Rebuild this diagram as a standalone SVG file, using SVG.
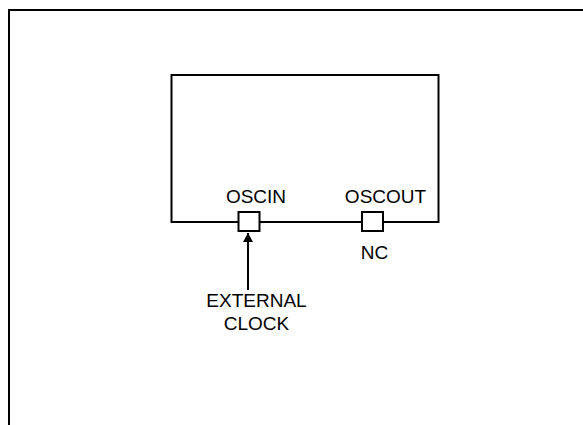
<svg xmlns="http://www.w3.org/2000/svg" width="583" height="425" viewBox="0 0 583 425">
<style>
.ln{fill:none;stroke:#000;stroke-width:2}
.pin{fill:#fff;stroke:#000;stroke-width:2}
.t{font-family:"Liberation Sans",Arial,sans-serif;font-size:19px;fill:#000;text-anchor:middle}
</style>
<defs>
<marker id="ah" markerWidth="10" markerHeight="10" refX="9" refY="5" orient="auto" markerUnits="userSpaceOnUse">
<path d="M0,0 L9,5 L0,10 Z" fill="#000"/>
</marker>
</defs>
<rect width="583" height="425" fill="#fff"/>
<g id="frame"><path class="ln" d="M9,425 V10 H590"/></g>
<g id="chip">
<rect class="ln" x="171.5" y="75" width="267" height="147"/>
<text class="t" x="256" y="203">OSCIN</text>
<text class="t" x="385.5" y="203">OSCOUT</text>
</g>
<g id="oscin"><rect class="pin" x="238.5" y="212" width="21" height="19"/></g>
<g id="oscout"><rect class="pin" x="362" y="212" width="21" height="19"/></g>
<g id="nc"><text class="t" x="374.5" y="259">NC</text></g>
<g id="ext"><text class="t" x="256.5" y="307">EXTERNAL</text><text class="t" x="256.5" y="330">CLOCK</text></g>
<g id="connectors"><line class="ln" x1="248" y1="290" x2="248" y2="233" marker-end="url(#ah)"/></g>
</svg>
